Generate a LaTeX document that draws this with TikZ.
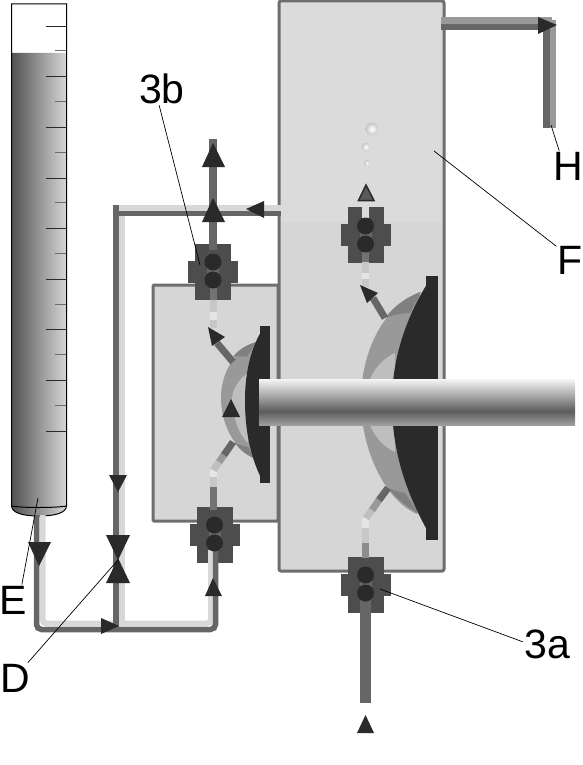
\documentclass[tikz,border=0pt]{standalone}
\usepackage{fontspec}
\setmainfont{Liberation Sans}
\usepackage{tikz}
\definecolor{ink}{HTML}{2A2A2A}
\definecolor{valve}{HTML}{4D4D4D}
\definecolor{duct}{HTML}{666666}
\definecolor{pale}{HTML}{D8D8D8}
\definecolor{tank}{HTML}{D6D6D6}
\definecolor{tanktop}{HTML}{DBDBDB}
\definecolor{edge}{HTML}{6E6E6E}
\definecolor{lens}{HTML}{999999}
\definecolor{lensin}{HTML}{BEBEBE}
\definecolor{lensout}{HTML}{808080}
\pgfdeclareverticalshading{rodgrad}{100bp}{rgb(0bp)=(.62,.62,.62); rgb(25bp)=(.62,.62,.62); rgb(40bp)=(.36,.36,.36); rgb(58bp)=(.68,.68,.68); rgb(70bp)=(.88,.88,.88); rgb(75bp)=(.96,.96,.96); rgb(100bp)=(.96,.96,.96)}

\begin{document}
\begin{tikzpicture}[x=1pt,y=-1pt,
ductdark/.style={draw=duct,line width=5.5pt,rounded corners=5pt},
ductpale/.style={draw=pale,line width=6pt,rounded corners=4pt},
hose/.style={line width=7pt},
valvev/.style={fill=valve,minimum width=36pt,minimum height=56pt,inner sep=0pt},
valveh/.style={fill=valve,minimum width=50pt,minimum height=22pt,inner sep=0pt},
slot/.style={fill=duct,minimum width=12pt,minimum height=30pt,inner sep=0pt},
ball/.style={circle,fill=ink,minimum size=17pt,inner sep=0pt},
bubble/.style={inner color=white,outer color=black!22},
tip/.style={fill=ink},
leader/.style={draw=black,line width=.7pt},
lbl/.style={font=\fontsize{41}{41}\selectfont,inner sep=1pt}]
\useasboundingbox (0,0) rectangle (582,765);
% burette
\fill[white] (11.5,4) rectangle (66.5,53);
\shade[left color=black!68,right color=black!16] (11.5,53)--(66.5,53)--(66.5,506) .. controls (66,513) and (55,516) .. (39,516) .. controls (23,516) and (12,513) .. (11.5,506)--cycle;
\foreach \y in {26,76.6,...,432} \draw[ink] (46,\y)--(66,\y);
\foreach \y in {51,101.6,...,406} \draw[edge,line width=1pt] (55,\y)--(66,\y);
\draw[black,line width=1pt] (66.5,506)--(66.5,4)--(11.5,4)--(11.5,506) .. controls (12,513) and (23,516) .. (39,516) .. controls (55,516) and (66,513) .. (66.5,506) .. controls (55,508) and (23,508) .. (11.5,506);
% chambers
\fill[tank] (279,222) rectangle (444,571);
\fill[tanktop] (279,1) rectangle (444,222);
\draw[edge,line width=3pt,rounded corners=2pt] (279,1) rectangle (444,571);
\fill[tank] (153,285) rectangle (278,521);
\draw[edge,line width=3pt,rounded corners=1pt] (153,285) rectangle (278,521);
% membranes
\fill[lens] (420,292) .. controls (385,305) and (361,350) .. (361,400) .. controls (361,450) and (385,500) .. (417,514)--cycle;
\fill[lensin] (395,353) .. controls (380,360) and (372,372) .. (368,385)--(368,420) .. controls (372,432) and (380,445) .. (395,452)--cycle;
\fill[lensout] (385,318) .. controls (395,305) and (407,297) .. (421,292)--(410,313) .. controls (402,313) and (393,315) .. (385,318)--cycle;
\fill[lensout] (388,488) .. controls (396,498) and (407,507) .. (418,513)--(405,493) .. controls (398,492) and (393,490) .. (388,488)--cycle;
\fill[ink] (426,276) rectangle (438,540);
\fill[ink] (427,284) .. controls (405,320) and (392,360) .. (392,402) .. controls (392,450) and (405,490) .. (427,530)--cycle;
\fill[lens] (256,343) .. controls (235,350) and (221,372) .. (221,398) .. controls (221,425) and (235,450) .. (254,458)--cycle;
\fill[lensin] (248,373) .. controls (240,378) and (233,388) .. (232,398) .. controls (233,420) and (240,436) .. (248,443)--cycle;
\fill[lensout] (233,357) .. controls (238,350) and (246,345) .. (256,342)--(247,357) .. controls (243,356) and (238,356) .. (233,357)--cycle;
\fill[lensout] (235,443) .. controls (240,450) and (246,455) .. (254,458)--(248,447) .. controls (244,446) and (239,445) .. (235,443)--cycle;
\fill[ink] (260,326) rectangle (270,483);
\fill[ink] (261,332) .. controls (250,350) and (245,375) .. (245,400) .. controls (245,430) and (250,455) .. (261,478)--cycle;
% valves
\foreach \n/\x/\y in {vF/365.5/235,vA/365.5/585,vB/213/272,vL/214.5/534.5}{
  \node[valvev] (\n) at (\x,\y) {};
  \node[valveh] (\n h) at (\x,\y) {};
  \node[slot] (\n s) at (\x,\y) {};
}
\fill[tanktop] (362,206) rectangle (369,218);
% hoses
\foreach \xa/\ya/\xb/\yb/\c in {213.5/510/213.5/487/black!55,213.5/487/213.5/477/black!22,213.5/477/213.5/470/black!10,
  213.5/470/219/462/black!25,219/462/224/455/black!40,224/455/233/442/black!60,
  213/288/213/300/black!55,213/300/213/312/black!22,213/312/213/320/black!10,213/320/213/328/black!22,
  365.5/528/365.5/518/black!10,365.5/558/365.5/543/black!45,365.5/543/365.5/528/black!22,
  366/518/372/510/black!25,372/510/379/500/black!40,379/500/388/488/black!60,
  365.5/250/365.5/262/black!55,365.5/262/365.5/273/black!22,365.5/273/365.5/279/black!10,365.5/279/365.5/287/black!22}
  {\draw[hose,\c] (\xa,\ya)--(\xb,\yb);}
\draw[hose,black!60] (217,343)--(233,362);
\draw[hose,black!60] (373,298)--(385,318);
% pipes
\draw[ductpale] (42.5,515)--(42.5,623.5)--(211,623.5)--(211,550);
\draw[ductdark] (36.5,515)--(36.5,629.5)--(215.5,629.5)--(215.5,550);
\draw[ductpale,rounded corners=0pt] (115,207.5)--(281,207.5);
\draw[ductpale,rounded corners=0pt] (121.5,216)--(121.5,623);
\draw[duct,line width=6pt] (116,205)--(116,629);
\draw[duct,line width=5.5pt] (116,213.5)--(281,213.5);
\draw[duct,line width=8pt] (213,139)--(213,250);
\draw[duct,line width=11pt] (365.5,600)--(365.5,703);
\draw[lens,line width=7pt] (441,20.5)--(552,20.5);
\draw[duct,line width=6pt] (441,27)--(546,27);
\draw[lens,line width=6pt] (553,20)--(553,128);
\draw[duct,line width=7pt] (546.5,25)--(546.5,128);
% balls
\foreach \n/\x/\y in {vF/365.5/235,vA/365.5/584,vB/213/271,vL/214.5/534}{
  \node[ball] (\n a) at (\x,\y-9) {};
  \node[ball] (\n b) at (\x,\y+9) {};
}
% rod
\shade[shading=rodgrad] (259,379) rectangle (575,425);
% bubbles
\shade[bubble] (372,129) circle (6.5pt);
\shade[bubble] (366,147) circle (4.5pt);
\shade[bubble] (367,163) circle (3pt);
% flow tips
\fill[tip] (213,143)--(202,167)--(225,167)--cycle;
\fill[tip] (213,198)--(202,222)--(225,222)--cycle;
\fill[tip] (246,209)--(264,201)--(264,218)--cycle;
\fill[tip] (39,566)--(28,542)--(51,542)--cycle;
\fill[tip] (118,560)--(106,535)--(130,535)--cycle;
\fill[tip] (118,558)--(106,583)--(130,583)--cycle;
\fill[tip] (118,492)--(109,475)--(127,475)--cycle;
\fill[tip] (119,626)--(101,618)--(101,634)--cycle;
\fill[tip] (213,578)--(205,596)--(222,596)--cycle;
\fill[tip] (231,399)--(222,417)--(240,417)--cycle;
\fill[tip] (208,327)--(212,346)--(225,337)--cycle;
\fill[tip] (360,285)--(367,303)--(378,293)--cycle;
\fill[tip] (557,25)--(538,17)--(538,34)--cycle;
\fill[tip] (365.5,715)--(357,733)--(374,733)--cycle;
\filldraw[fill=black!65,draw=ink,line width=1.5pt] (366,185)--(358.5,200.5)--(374,200.5)--cycle;
% labels
\node[lbl] (l3b) at (162,89) {3b};
\node[lbl] (l3a) at (547,644) {3a};
\node[lbl] (lH) at (568,166) {H};
\node[lbl] (lF) at (570,260) {F};
\node[lbl] (lE) at (13,600) {E};
\node[lbl] (lD) at (15,678) {D};
\coordinate (t3b) at (200,265);
\coordinate (t3a) at (380,589);
\coordinate (tH) at (551,125);
\coordinate (tF) at (434,151);
\coordinate (tE) at (38,498);
\coordinate (tD) at (118,560);
\draw[leader] (l3b.-100)--(t3b);
\draw[leader] (l3a.175)--(t3a);
\draw[leader] (lH.120)--(tH);
\draw[leader] (lF.135)--(tF);
\draw[leader] (lE.60)--(tE);
\draw[leader] (lD.50)--(tD);
\end{tikzpicture}
\end{document}
